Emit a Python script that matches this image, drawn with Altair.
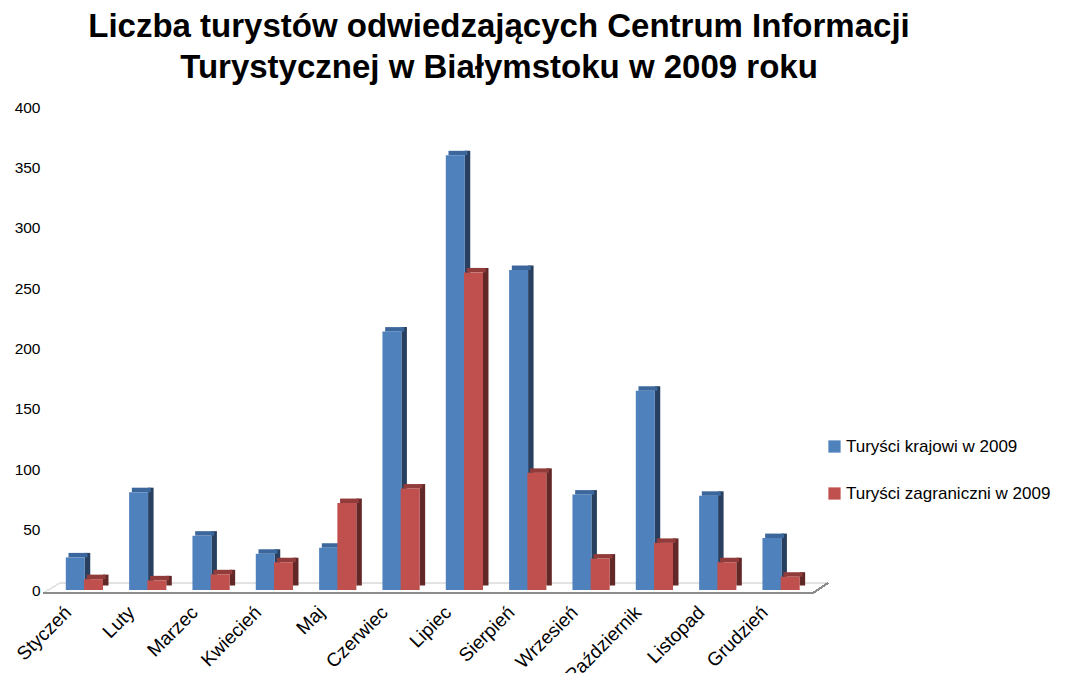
import json
import altair as alt
import pandas as pd

months = ["Styczeń", "Luty", "Marzec", "Kwiecień", "Maj", "Czerwiec",
          "Lipiec", "Sierpień", "Wrzesień", "Październik", "Listopad", "Grudzień"]
series_names = ["Turyści krajowi w 2009", "Turyści zagraniczni w 2009"]
krajowi = [27, 81, 45, 30, 35, 214, 360, 265, 79, 165, 78, 43]
zagraniczni = [9, 8, 13, 23, 72, 84, 263, 97, 26, 39, 23, 11]
y_ticks = [0, 50, 100, 150, 200, 250, 300, 350, 400]

front_colors = ["#4f81bd", "#c0504d"]
top_colors = ["#3c679c", "#913c3a"]
side_colors = ["#283f5f", "#622727"]

rows = []
for i, m in enumerate(months):
    for s, vals in enumerate([krajowi, zagraniczni]):
        rows.append({"month": m, "mi": i, "series": series_names[s], "si": s,
                     "value": vals[i], "front": front_colors[s],
                     "top": top_colors[s], "side": side_colors[s]})
df = pd.DataFrame(rows)

W, H = 770, 483
label_expr = json.dumps(months, ensure_ascii=False) + "[datum.value]"

base = alt.Chart(df).transform_calculate(
    pos="datum.mi + (datum.si == 0 ? -0.148 : 0.14)"
)

xenc = alt.X("pos:Q", scale=alt.Scale(domain=[-0.5, 11.5], nice=False, zero=False),
             axis=alt.Axis(values=list(range(12)), labelExpr=label_expr, labelAngle=-45,
                           labelAlign="right", labelBaseline="middle", labelPadding=19,
                           labelOffset=-17, labelFontSize=19, labelColor="#000000",
                           labelFont="Liberation Sans", labelOverlap=False, labelBound=False,
                           labelLimit=300, domain=False, ticks=False, grid=False,
                           title=None))
yenc = alt.Y("value:Q", scale=alt.Scale(domain=[0, 400], nice=False),
             axis=alt.Axis(values=y_ticks, labelFontSize=15.5, labelColor="#000000",
                           labelFont="Liberation Sans", labelPadding=8, domain=False,
                           ticks=False, grid=False, title=None))

side = base.mark_bar(width=5.5, xOffset=12.2, yOffset=-4.5, y2Offset=-4.5).encode(
    x=xenc, y=yenc, y2=alt.Y2(datum=0), color=alt.Color("side:N", scale=None))
top = base.mark_bar(width=19, xOffset=2.7, yOffset=-4.5, y2Offset=0).encode(
    x=xenc, y=yenc, y2=alt.Y2("value:Q"), color=alt.Color("top:N", scale=None))
front = base.mark_bar(width=19).encode(
    x=xenc, y=yenc,
    color=alt.Color("series:N", sort=series_names,
                    scale=alt.Scale(domain=series_names, range=front_colors),
                    legend=alt.Legend(orient="none", legendX=778, legendY=331, title=None,
                                      symbolType="square", symbolSize=150,
                                      symbolStrokeWidth=0, labelFontSize=17,
                                      labelFont="Liberation Sans", labelColor="#000000",
                                      rowPadding=29, labelOffset=3, labelLimit=400)))

floor_back = alt.Chart(df).mark_rule(color="#e2e2e2", strokeWidth=1).encode(
    x=alt.value(12), x2=alt.value(780), y=alt.value(476))
floor_left = alt.Chart(df).mark_rule(color="#e2e2e2", strokeWidth=1).encode(
    x=alt.value(-5), x2=alt.value(12), y=alt.value(486), y2=alt.value(476))
floor_front = alt.Chart(df).mark_rule(color="#8c8c8c", strokeWidth=1.2).encode(
    x=alt.value(-5), x2=alt.value(765), y=alt.value(486))
floor_right = alt.Chart(df).mark_rule(color="#8c8c8c", strokeWidth=1.2).encode(
    x=alt.value(765), x2=alt.value(780), y=alt.value(486), y2=alt.value(476))

chart = alt.layer(floor_back, floor_left, side, top, front, floor_front, floor_right).properties(
    width=W, height=H,
    background="#ffffff",
    title=alt.Title(["Liczba turystów odwiedzających Centrum Informacji",
                     "Turystycznej w Białymstoku w 2009 roku"],
                    font="Liberation Sans", fontSize=33, fontWeight="bold", color="#000000",
                    anchor="middle", dx=66, offset=15, lineHeight=41),
    autosize=alt.AutoSizeParams(type="none"),
    padding={"left": 40, "top": 99, "right": 266, "bottom": 83},
).configure_view(stroke=None)

chart.save("out.html", embed_options={"renderer": "svg", "actions": False})
